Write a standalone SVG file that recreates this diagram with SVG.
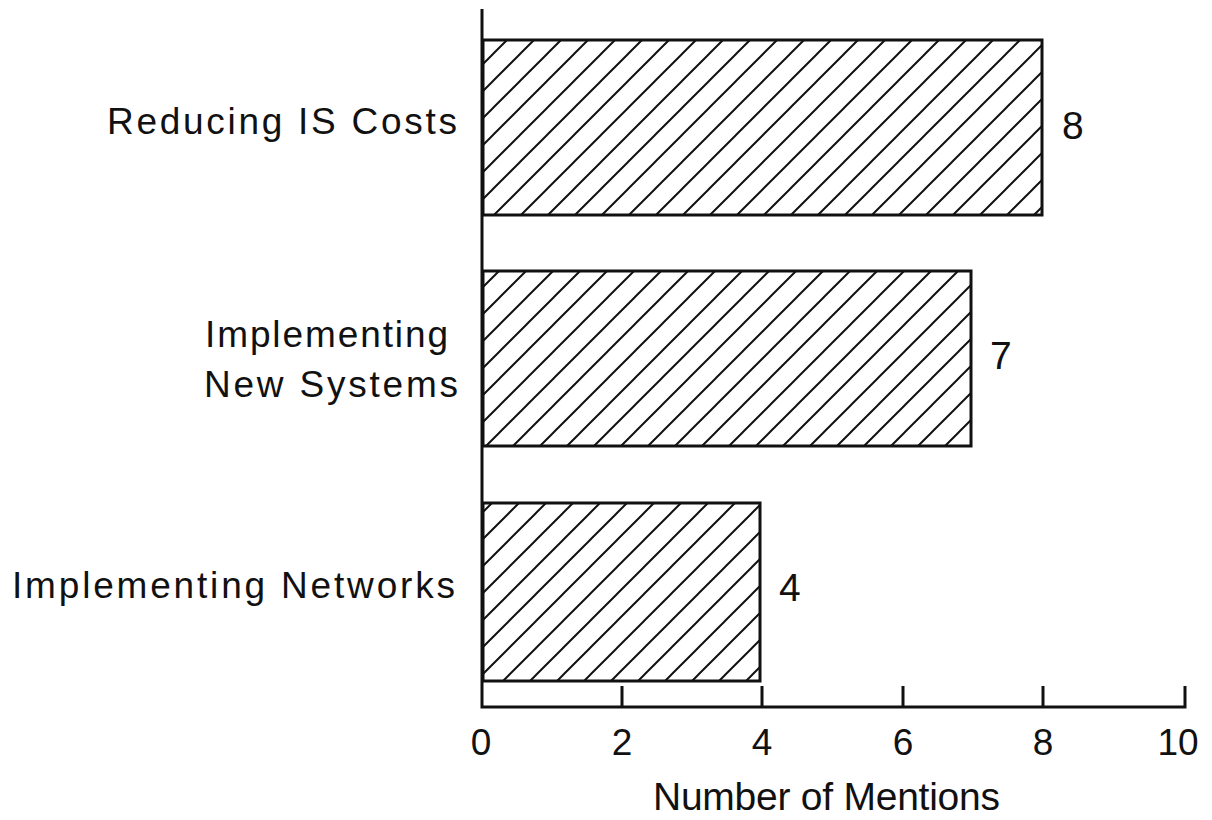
<svg xmlns="http://www.w3.org/2000/svg" width="1212" height="820" viewBox="0 0 1212 820">
<style>
text{font-family:"Liberation Sans",Arial,Helvetica,sans-serif;fill:#111}
.cat{font-size:37px}
.tick{font-size:37px;text-anchor:middle}
.val{font-size:39px}
.title{font-size:39px}
.bar{stroke:#111;stroke-width:3}
.axis{stroke:#111;stroke-width:3;fill:none}
.h{stroke:#111;stroke-width:2}
</style>
<defs>
<pattern id="hatch1" patternUnits="userSpaceOnUse" width="27" height="27" patternTransform="translate(7,0)">
<path class="h" d="M-3,30 L30,-3 M-3,3 L3,-3 M24,30 L30,24"/>
</pattern>
<pattern id="hatch2" patternUnits="userSpaceOnUse" width="27" height="27" patternTransform="translate(14,0)">
<path class="h" d="M-3,30 L30,-3 M-3,3 L3,-3 M24,30 L30,24"/>
</pattern>
<pattern id="hatch3" patternUnits="userSpaceOnUse" width="27" height="27" patternTransform="translate(23,0)">
<path class="h" d="M-3,30 L30,-3 M-3,3 L3,-3 M24,30 L30,24"/>
</pattern>
</defs>
<rect width="1212" height="820" fill="#ffffff"/>
<g id="bar-reducing">
<rect class="bar" x="483" y="40" width="559" height="175" fill="url(#hatch1)"/>
<text class="val" x="1062" y="139">8</text>
</g>
<g id="bar-newsystems">
<rect class="bar" x="483" y="271" width="488" height="175" fill="url(#hatch2)"/>
<text class="val" x="990" y="369">7</text>
</g>
<g id="bar-networks">
<rect class="bar" x="483" y="503" width="277" height="178" fill="url(#hatch3)"/>
<text class="val" x="779" y="601">4</text>
</g>
<g id="labels">
<text class="cat" x="107" y="134" textLength="350" lengthAdjust="spacing">Reducing IS Costs</text>
<text class="cat" x="205" y="347" textLength="243" lengthAdjust="spacing">Implementing</text>
<text class="cat" x="204" y="397" textLength="254" lengthAdjust="spacing">New Systems</text>
<text class="cat" x="12" y="598" textLength="443" lengthAdjust="spacing">Implementing Networks</text>
</g>
<g id="axes">
<path class="axis" d="M482,9 V707 H1185 V686 M622,707 V686 M762,707 V686 M903,707 V686 M1043,707 V686"/>
<text class="tick" x="481" y="755">0</text>
<text class="tick" x="622" y="755">2</text>
<text class="tick" x="762" y="755">4</text>
<text class="tick" x="903" y="755">6</text>
<text class="tick" x="1043" y="755">8</text>
<text class="tick" x="1178" y="755">10</text>
<text class="title" x="653" y="810" textLength="347" lengthAdjust="spacing">Number of Mentions</text>
</g>
</svg>
